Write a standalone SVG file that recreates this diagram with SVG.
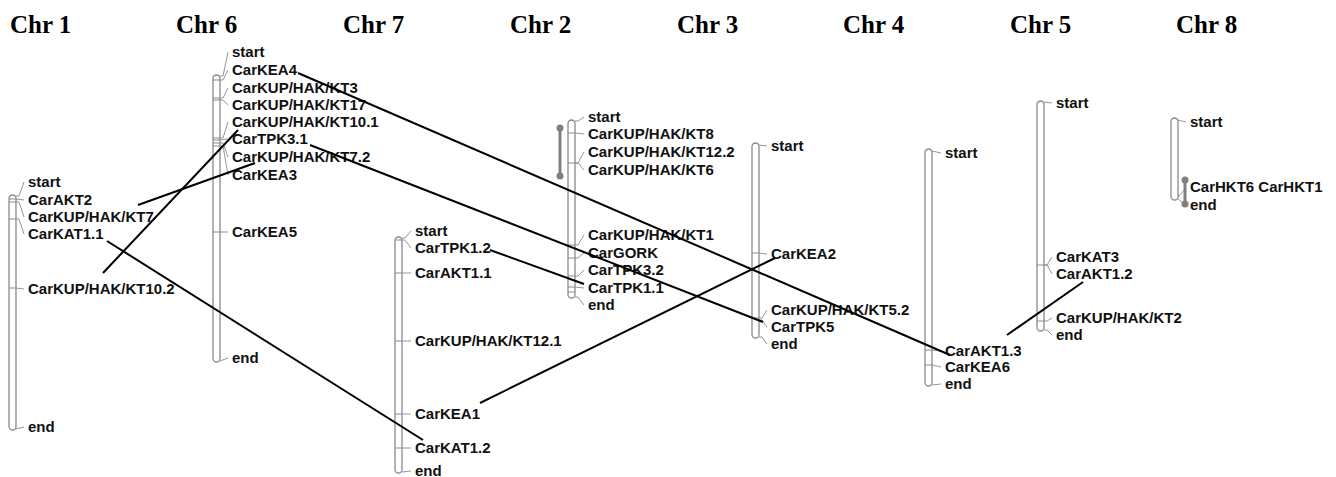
<svg xmlns="http://www.w3.org/2000/svg" width="1336" height="477" viewBox="0 0 1336 477">
<style>
.title{font-family:"Liberation Serif","Times New Roman",serif;font-weight:bold;font-size:25px;fill:#000}
.lb{font-family:"Liberation Sans",Arial,sans-serif;font-weight:bold;font-size:15px;fill:#111}
.chr{fill:#fff;stroke:#8a8a8a;stroke-width:1.3}
.tk{stroke:#8a8a8a;stroke-width:1;fill:none}
.ln{stroke:#8a8a8a;stroke-width:0.9;fill:none}
.cn{stroke:#000;stroke-width:2;fill:none}
.bar{stroke:#808080;stroke-width:3}
.dot{fill:#808080}
</style>
<rect width="1336" height="477" fill="#fff"/>
<g id="titles">
<text class="title" x="10" y="33">Chr 1</text>
<text class="title" x="176" y="33">Chr 6</text>
<text class="title" x="343" y="33">Chr 7</text>
<text class="title" x="510" y="33">Chr 2</text>
<text class="title" x="677" y="33">Chr 3</text>
<text class="title" x="843" y="33">Chr 4</text>
<text class="title" x="1010" y="33">Chr 5</text>
<text class="title" x="1176" y="33">Chr 8</text>
</g>

<g id="chr1">
<rect class="chr" x="9" y="195" width="7" height="235" rx="3.5"/>
<path class="tk" d="M9 199H16M9 202H16M9 219H16M9 288H16"/>
<path class="ln" d="M16 196L19 196L24 182M16 199L24 200M16 202L19 202L24 217M16 219L19 219L24 234M16 288L24 289M16 429L24 427"/>
<text class="lb" x="28" y="187">start</text>
<text class="lb" x="28" y="205">CarAKT2</text>
<text class="lb" x="28" y="222">CarKUP/HAK/KT7</text>
<text class="lb" x="28" y="239">CarKAT1.1</text>
<text class="lb" x="28" y="294">CarKUP/HAK/KT10.2</text>
<text class="lb" x="28" y="432">end</text>
</g>

<g id="chr6">
<rect class="chr" x="213" y="75" width="7" height="287" rx="3.5"/>
<path class="tk" d="M213 80H220M213 98H220M213 100H220M213 138H220M213 140H220M213 143H220M213 146H220M213 232H220"/>
<path class="ln" d="M220 76L223 76L228 52M220 80L223 80L228 70M220 98L223 98L228 88M220 100L223 100L228 105M220 138L223 138L228 122M220 140L228 139M220 143L223 143L228 157M220 146L223 146L228 175M220 232L228 232M220 361L228 358"/>
<text class="lb" x="232" y="57">start</text>
<text class="lb" x="232" y="75">CarKEA4</text>
<text class="lb" x="232" y="93">CarKUP/HAK/KT3</text>
<text class="lb" x="232" y="110">CarKUP/HAK/KT17</text>
<text class="lb" x="232" y="127">CarKUP/HAK/KT10.1</text>
<text class="lb" x="232" y="144">CarTPK3.1</text>
<text class="lb" x="232" y="162">CarKUP/HAK/KT7.2</text>
<text class="lb" x="232" y="180">CarKEA3</text>
<text class="lb" x="232" y="237">CarKEA5</text>
<text class="lb" x="232" y="363">end</text>
</g>

<g id="chr7">
<rect class="chr" x="395" y="237" width="7" height="236" rx="3.5"/>
<path class="tk" d="M395 240H402M395 273H402M395 341H402M395 414H402M395 448H402"/>
<path class="ln" d="M402 238L405 238L411 231M402 240L405 240L411 248M402 273L411 273M402 341L411 341M402 414L411 414M402 448L411 448M402 472L411 471"/>
<text class="lb" x="415" y="236">start</text>
<text class="lb" x="415" y="253">CarTPK1.2</text>
<text class="lb" x="415" y="278">CarAKT1.1</text>
<text class="lb" x="415" y="346">CarKUP/HAK/KT12.1</text>
<text class="lb" x="415" y="419">CarKEA1</text>
<text class="lb" x="415" y="453">CarKAT1.2</text>
<text class="lb" x="415" y="476">end</text>
</g>

<g id="chr2">
<rect class="chr" x="568" y="120" width="7" height="178" rx="3.5"/>
<path class="tk" d="M568 133H575M568 163H575M568 245H575M568 258H575M568 276H575M568 287H575M568 292H575"/>
<path class="ln" d="M575 121L578 121L584 117M575 133L584 134M575 163L578 163L584 152M575 163L578 163L584 170M575 245L578 245L584 235M575 258L578 258L584 253M575 276L578 276L584 270M575 287L584 288M575 297L578 297L584 305"/>
<line class="bar" x1="560" y1="128" x2="560" y2="176"/>
<circle class="dot" cx="560" cy="128" r="3.5"/>
<circle class="dot" cx="560" cy="176" r="3.5"/>
<text class="lb" x="588" y="122">start</text>
<text class="lb" x="588" y="139">CarKUP/HAK/KT8</text>
<text class="lb" x="588" y="157">CarKUP/HAK/KT12.2</text>
<text class="lb" x="588" y="175">CarKUP/HAK/KT6</text>
<text class="lb" x="588" y="240">CarKUP/HAK/KT1</text>
<text class="lb" x="588" y="258">CarGORK</text>
<text class="lb" x="588" y="275">CarTPK3.2</text>
<text class="lb" x="588" y="293">CarTPK1.1</text>
<text class="lb" x="588" y="310">end</text>
</g>

<g id="chr3">
<rect class="chr" x="752" y="143" width="7" height="195" rx="3.5"/>
<path class="tk" d="M752 253H759M752 318H759"/>
<path class="ln" d="M759 145L767 146M759 253L767 254M759 318L762 318L767 310M759 320L762 320L767 327M759 337L762 337L767 344"/>
<text class="lb" x="771" y="151">start</text>
<text class="lb" x="771" y="259">CarKEA2</text>
<text class="lb" x="771" y="315">CarKUP/HAK/KT5.2</text>
<text class="lb" x="771" y="332">CarTPK5</text>
<text class="lb" x="771" y="349">end</text>
</g>

<g id="chr4">
<rect class="chr" x="925" y="149" width="7" height="237" rx="3.5"/>
<path class="tk" d="M925 350H932M925 365H932"/>
<path class="ln" d="M932 151L941 153M932 350L941 351M932 365L941 367M932 385L941 384"/>
<text class="lb" x="945" y="158">start</text>
<text class="lb" x="945" y="356">CarAKT1.3</text>
<text class="lb" x="945" y="372">CarKEA6</text>
<text class="lb" x="945" y="389">end</text>
</g>

<g id="chr5">
<rect class="chr" x="1037" y="101" width="7" height="230" rx="3.5"/>
<path class="tk" d="M1037 265H1044M1037 321H1044"/>
<path class="ln" d="M1044 102L1052 103M1044 265L1047 265L1052 257M1044 265L1047 265L1052 274M1044 321L1047 321L1052 318M1044 330L1047 330L1052 335"/>
<text class="lb" x="1056" y="108">start</text>
<text class="lb" x="1056" y="262">CarKAT3</text>
<text class="lb" x="1056" y="279">CarAKT1.2</text>
<text class="lb" x="1056" y="323">CarKUP/HAK/KT2</text>
<text class="lb" x="1056" y="340">end</text>
</g>

<g id="chr8">
<rect class="chr" x="1171" y="118" width="7" height="82" rx="3.5"/>
<path class="ln" d="M1178 120L1186 122M1178 197L1186 188M1178 199L1186 205"/>
<line class="bar" x1="1185" y1="180" x2="1185" y2="204"/>
<circle class="dot" cx="1185" cy="180" r="3.5"/>
<circle class="dot" cx="1185" cy="204" r="3.5"/>
<text class="lb" x="1190" y="127">start</text>
<text class="lb" x="1190" y="192">CarHKT6 CarHKT1</text>
<text class="lb" x="1190" y="210">end</text>
</g>

<g id="connectors">
<line class="cn" x1="138" y1="205" x2="255" y2="163"/>
<line class="cn" x1="103" y1="273" x2="238" y2="130"/>
<line class="cn" x1="107" y1="241" x2="423" y2="440"/>
<line class="cn" x1="298" y1="73" x2="950" y2="355"/>
<line class="cn" x1="310" y1="145" x2="763" y2="322"/>
<line class="cn" x1="490" y1="250" x2="584" y2="284"/>
<line class="cn" x1="480" y1="403" x2="775" y2="258"/>
<line class="cn" x1="1007" y1="335" x2="1083" y2="282"/>
</g>
</svg>
